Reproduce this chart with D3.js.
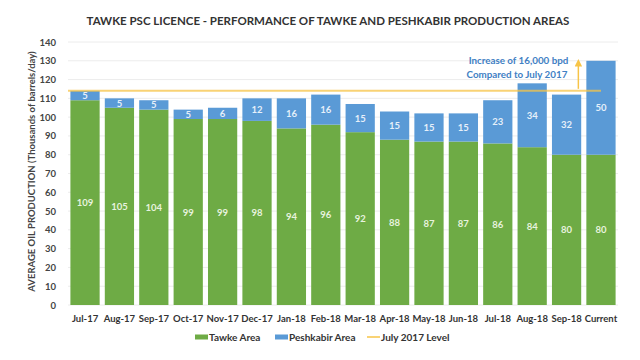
<!DOCTYPE html>
<html><head><meta charset="utf-8">
<script src="https://cdn.jsdelivr.net/npm/d3@7"></script>
<style>body{margin:0;background:#fff}svg{display:block}text{font-family:Lato,"Open Sans",sans-serif}</style>
</head><body><svg id="c" width="640" height="360"></svg>
<script>
const categories = ["Jul-17","Aug-17","Sep-17","Oct-17","Nov-17","Dec-17","Jan-18","Feb-18","Mar-18","Apr-18","May-18","Jun-18","Jul-18","Aug-18","Sep-18","Current"];
const tawke = [109,105,104,99,99,98,94,96,92,88,87,87,86,84,80,80];
const peshkabir = [5,5,5,5,6,12,16,16,15,15,15,15,23,34,32,50];
const july2017Level = 114;
const yTicks = [0,10,20,30,40,50,60,70,80,90,100,110,120,130,140];

const svg = d3.select("#c");
const m = {l:68, r:22, t:42, b:55};
const W = 640, H = 360;
const x = d3.scaleBand().domain(categories).range([m.l, W-m.r]).paddingInner(0.15).paddingOuter(0.07);
const y = d3.scaleLinear().domain([0,140]).range([H-m.b, m.t]);
const green = "#6eab45", blue = "#5a9ad6", gold = "#f7c447";

// title
svg.append("text").attr("x", 328).attr("y", 25).attr("text-anchor","middle")
  .attr("font-size", 11.5).attr("font-weight","bold").attr("fill","#333")
  .text("TAWKE PSC LICENCE - PERFORMANCE OF TAWKE AND PESHKABIR PRODUCTION AREAS");

// grid
svg.append("g").selectAll("line").data(yTicks).join("line")
  .attr("x1", m.l).attr("x2", W-m.r).attr("y1", d=>y(d)).attr("y2", d=>y(d))
  .attr("stroke","#ececec").attr("stroke-width",1);

// y axis
const ya = svg.append("g").attr("transform",`translate(${m.l-9},0)`)
  .call(d3.axisLeft(y).tickValues(yTicks).tickSize(0).tickPadding(3));
ya.select(".domain").remove();
ya.selectAll("text").attr("font-size",9.5).attr("font-weight","bold").attr("fill","#444").attr("font-family","Lato,sans-serif");

svg.append("text").attr("transform",`translate(35,${(m.t+H-m.b)/2 - 2}) rotate(-90)`)
  .attr("text-anchor","middle").attr("font-size",9.5).attr("font-weight","bold").attr("fill","#444")
  .text("AVERAGE OIL PRODUCTION (Thousands of barrels/day)");

// bars
const g = svg.append("g");
categories.forEach((c,i)=>{
  const t = tawke[i], p = peshkabir[i];
  g.append("rect").attr("x", x(c)).attr("width", x.bandwidth())
    .attr("y", y(t)).attr("height", y(0)-y(t)).attr("fill", green);
  g.append("rect").attr("x", x(c)).attr("width", x.bandwidth())
    .attr("y", y(t+p)).attr("height", y(t)-y(t+p)).attr("fill", blue);
  g.append("text").attr("x", x(c)+x.bandwidth()/2).attr("y", y(t/2)+3.5)
    .attr("text-anchor","middle").attr("font-size",9.5).attr("font-weight","bold").attr("fill","#e8f3df").text(t);
  g.append("text").attr("x", x(c)+x.bandwidth()/2).attr("y", y(t+p/2)+3.5)
    .attr("text-anchor","middle").attr("font-size",9.5).attr("font-weight","bold").attr("fill","#e6f0fa").text(p);
});

// July 2017 level line
svg.append("line").attr("x1", m.l).attr("x2", x("Current")+x.bandwidth()*0.5).attr("y1", y(july2017Level)).attr("y2", y(july2017Level))
  .attr("stroke", gold).attr("stroke-width",2).attr("opacity",0.75);

// arrow + annotation
const ax = x("Current") - 8;
svg.append("defs").append("marker").attr("id","ah").attr("viewBox","0 0 10 10").attr("refX",5).attr("refY",5)
  .attr("markerWidth",5).attr("markerHeight",5).attr("orient","auto-start-reverse")
  .append("path").attr("d","M0,0 L10,5 L0,10 z").attr("fill", gold);
svg.append("line").attr("x1", ax).attr("x2", ax).attr("y1", y(july2017Level)-2).attr("y2", y(tawke[15]+peshkabir[15])+2)
  .attr("stroke", gold).attr("stroke-width",1.5).attr("marker-end","url(#ah)");
svg.append("text").attr("x", ax-10).attr("y", y(128.5)).attr("text-anchor","end")
  .attr("font-size",9.8).attr("font-weight","bold").attr("fill","#3f80c4").text("Increase of 16,000 bpd");
svg.append("text").attr("x", ax-11).attr("y", y(121)).attr("text-anchor","end")
  .attr("font-size",9.8).attr("font-weight","bold").attr("fill","#3f80c4").text("Compared to July 2017");

// x axis
const xa = svg.append("g").attr("transform",`translate(0,${H-m.b})`)
  .call(d3.axisBottom(x).tickSize(0).tickPadding(10));
xa.select(".domain").remove();
xa.selectAll("text").attr("font-size",9.5).attr("font-weight","bold").attr("fill","#333").attr("font-family","Lato,sans-serif");

// legend
const lg = svg.append("g").attr("transform","translate(0,341)");
const items = [{t:"Tawke Area", c:green, x:195, type:"rect"},{t:"Peshkabir Area", c:blue, x:275, type:"rect"},{t:"July 2017 Level", c:gold, x:367, type:"line"}];
items.forEach(it=>{
  if(it.type==="rect") lg.append("rect").attr("x",it.x).attr("y",-6.5).attr("width",13).attr("height",5).attr("fill",it.c);
  else lg.append("line").attr("x1",it.x).attr("x2",it.x+13).attr("y1",-4).attr("y2",-4).attr("stroke",it.c).attr("stroke-width",1.5);
  lg.append("text").attr("x",it.x+14).attr("y",0).attr("font-size",10).attr("font-weight","bold").attr("fill","#333").text(it.t);
});
</script></body></html>
